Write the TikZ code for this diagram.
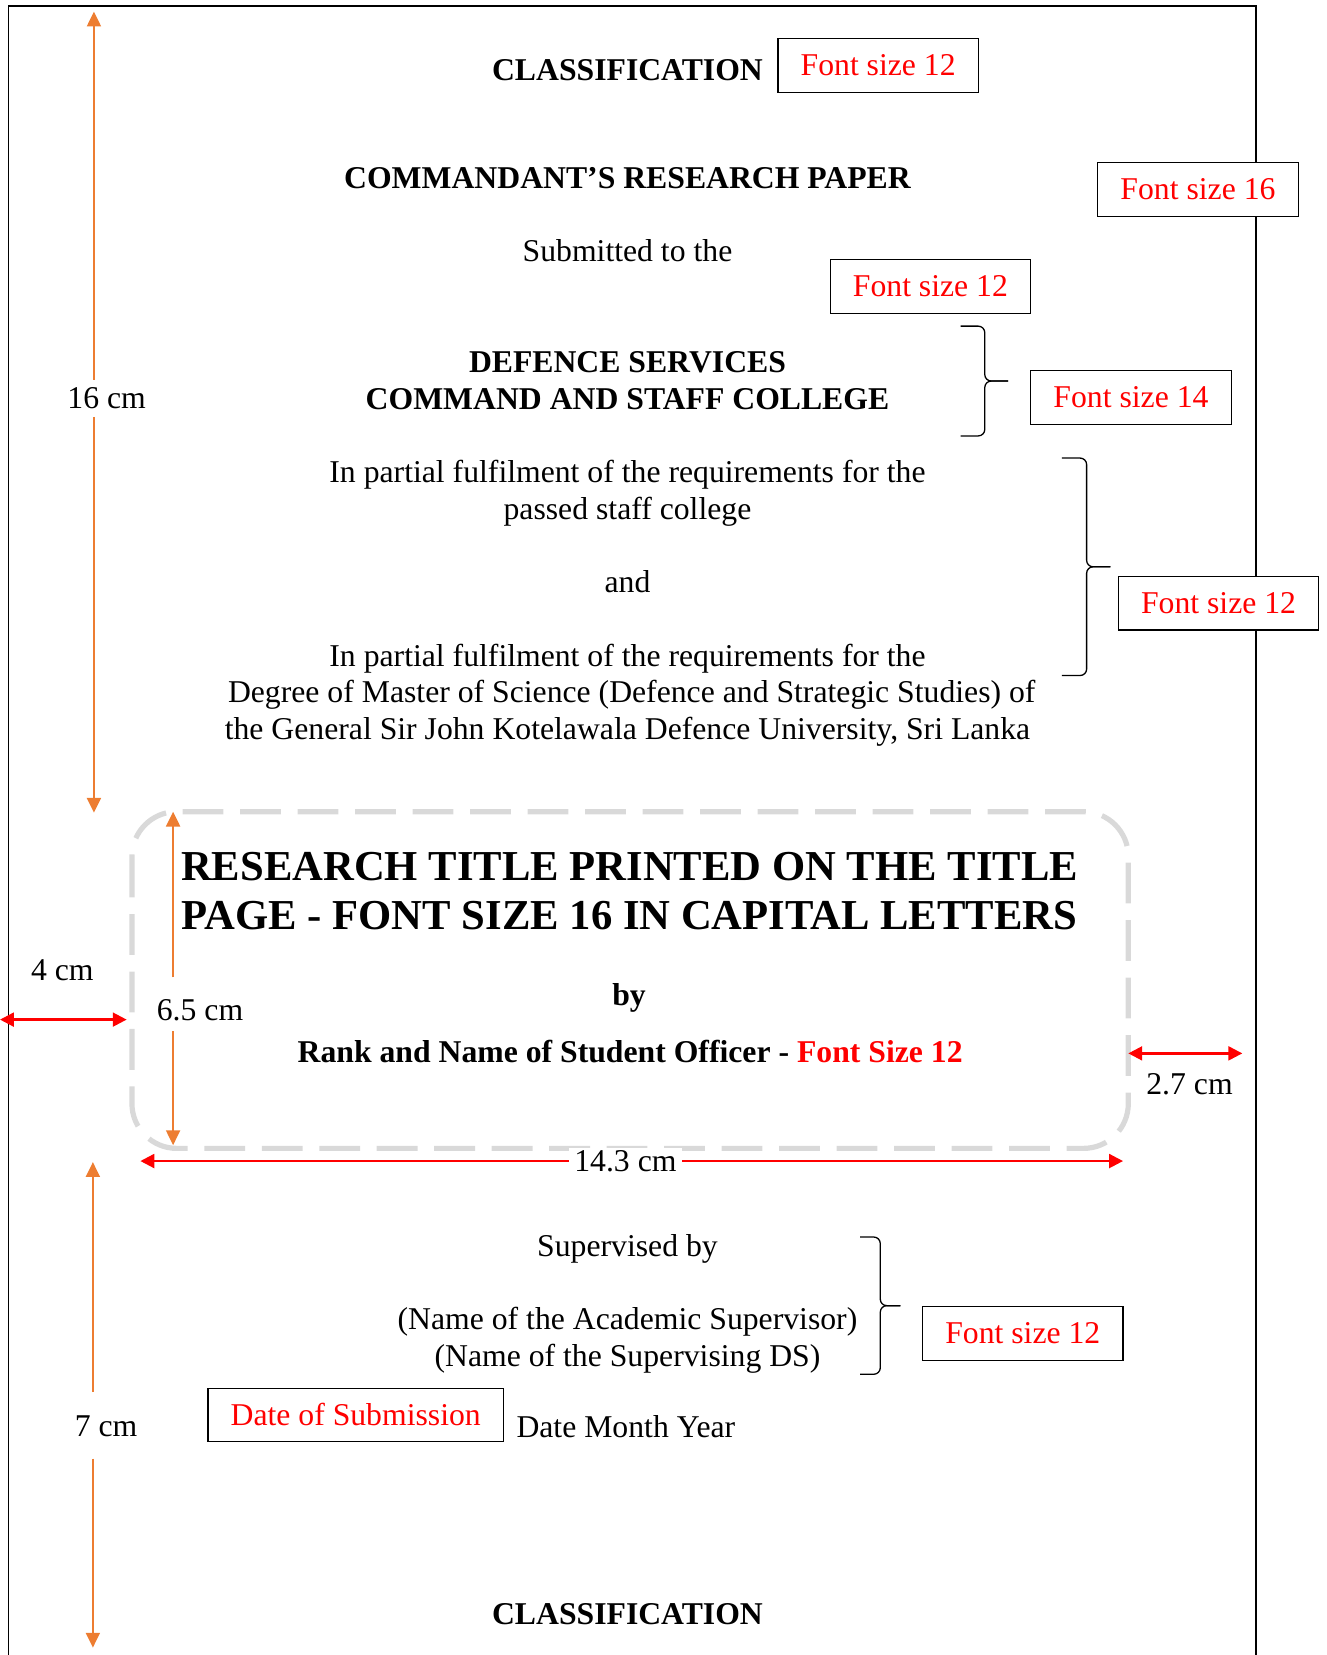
\documentclass[tikz,border=0pt]{standalone}
\usepackage{fontspec}
\setmainfont{Liberation Serif}
\usetikzlibrary{arrows.meta}
\definecolor{dimorange}{HTML}{ED7D31}
\definecolor{dashgray}{RGB}{217,217,217}
\newcommand{\twelve}{\fontsize{17.1pt}{20pt}\selectfont}
\newcommand{\sixteen}{\fontsize{23pt}{27pt}\selectfont}

\begin{document}
\begin{tikzpicture}[x=0.02cm,y=-0.02cm,
  txt/.style={anchor=base,inner sep=0pt,font=\twelve},
  hd/.style={anchor=base,inner sep=0pt,font=\twelve\bfseries},
  ttl/.style={anchor=base,inner sep=0pt,font=\sixteen\bfseries},
  fsbox/.style={draw,line width=0.7pt,fill=white,text=red,font=\twelve,inner sep=0pt,minimum width=3.8cm,minimum height=1.02cm},
  dimlabel/.style={inner sep=0pt,text=black,font=\twelve},
  bracket/.style={line width=0.7pt,rounded corners=3.5pt},
  orarrow/.style={dimorange,line width=1.2pt,-{Triangle[length=8pt,width=7.5pt]}},
  rdarrow/.style={red,line width=1.25pt,{Triangle[length=7.5pt,width=7.5pt]}-{Triangle[length=7.5pt,width=7.5pt]}},
  dashbox/.style={dashgray,line width=2.8pt,dash pattern=on 22pt off 9pt,rounded corners=0.85cm}]
\useasboundingbox (0,0) rectangle (1257,1568);
\draw [line width=1pt] (8,1572) -- (8,6) -- (1190,6) -- (1190,1572);

\node[hd] (clstop) at (594.5,76) {CLASSIFICATION};
\node[fsbox] (fs1) at (832,62) {Font size 12};
\node[hd] (crp) at (594.5,179) {COMMANDANT’S RESEARCH PAPER};
\node[fsbox] (fs2) at (1135,179.5) {Font size 16};
\node[txt] (subm) at (594.5,248) {Submitted to the};
\node[fsbox] (fs3) at (881.5,271.5) {Font size 12};
\node[hd] (dsc1) at (594.5,353) {DEFENCE SERVICES};
\node[hd] (dsc2) at (594.5,388) {COMMAND AND STAFF COLLEGE};
\draw [bracket] (910,309) -| (933,361) -- (955,361);
\draw [bracket] (910,413) -| (933,361) -- (955,361);
\node[fsbox] (fs4) at (1071.5,376.5) {Font size 14};

\node[txt] (pf1) at (594.5,457) {In partial fulfilment of the requirements for the};
\node[txt] (pf2) at (594.5,492) {passed staff college};
\node[txt] (and) at (594.5,561) {and};
\node[txt] (pf3) at (594.5,631) {In partial fulfilment of the requirements for the};
\node[txt] (pf4) at (598.5,666) {Degree of Master of Science (Defence and Strategic Studies) of};
\node[txt] (pf5) at (594.5,701) {the General Sir John Kotelawala Defence University, Sri Lanka};
\draw [bracket] (1006,434) -| (1029.5,537) -- (1052,537);
\draw [bracket] (1006,640) -| (1029.5,537) -- (1052,537);
\node[fsbox] (fs5) at (1154.5,571.5) {Font size 12};

\draw [dashbox] (125,769) rectangle (1069,1088);
\node[ttl] (ttl1) at (596.5,834) {RESEARCH TITLE PRINTED ON THE TITLE};
\node[ttl] (ttl2) at (596.5,881) {PAGE - FONT SIZE 16 IN CAPITAL LETTERS};
\node[hd] (by) at (596,953) {by};
\node[hd] (rank) at (597,1007) {Rank and Name of Student Officer - \textcolor{red}{Font Size 12}};

\node[txt] (supby) at (594.5,1190) {Supervised by};
\node[txt] (acad) at (594.5,1260) {(Name of the Academic Supervisor)};
\node[txt] (sds) at (594.5,1295) {(Name of the Supervising DS)};
\draw [bracket] (815,1172) -| (834,1237) -- (853,1237);
\draw [bracket] (815,1302) -| (834,1237) -- (853,1237);
\node[fsbox] (fs6) at (969,1263.5) {Font size 12};
\node[fsbox,minimum width=5.6cm,minimum height=1cm] (dos) at (337,1340.5) {Date of Submission};
\node[txt,anchor=base west] (dmy) at (489,1362) {Date Month Year};
\node[hd] (clsbot) at (594.5,1539) {CLASSIFICATION};

% orange heights
\node[dimlabel] (l16) at (101,377) {16 cm};
\coordinate (t16) at (89,11);
\coordinate (u16) at (89,360);
\coordinate (d16) at (89,395);
\coordinate (b16) at (89,770);
\draw [orarrow] (u16) -- (t16);
\draw [orarrow] (d16) -- (b16);
\node[dimlabel] (l65) at (189.5,957) {6.5 cm};
\coordinate (t65) at (164,769);
\coordinate (u65) at (164,926);
\coordinate (d65) at (164,977);
\coordinate (b65) at (164,1085);
\draw [orarrow] (u65) -- (t65);
\draw [orarrow] (d65) -- (b65);
\node[dimlabel] (l7) at (100.5,1351) {7 cm};
\coordinate (t7) at (88,1101);
\coordinate (u7) at (88,1319);
\coordinate (d7) at (88,1382);
\coordinate (b7) at (88,1561);
\draw [orarrow] (u7) -- (t7);
\draw [orarrow] (d7) -- (b7);

% red widths
\coordinate (m4l) at (0,966);
\coordinate (m4r) at (120,966);
\draw [rdarrow] (m4l) -- (m4r);
\node[dimlabel] (l4) at (59,919) {4 cm};
\coordinate (m27l) at (1069,998);
\coordinate (m27r) at (1177,998);
\draw [rdarrow] (m27l) -- (m27r);
\node[dimlabel] (l27) at (1127,1027) {2.7 cm};
\coordinate (w143l) at (133,1100);
\coordinate (w143r) at (1064,1100);
\draw [rdarrow] (w143l) -- (w143r) node[pos=0.4936,dimlabel,fill=white,inner xsep=3pt,inner ysep=1pt] (l143) {14.3 cm};
\end{tikzpicture}
\end{document}
